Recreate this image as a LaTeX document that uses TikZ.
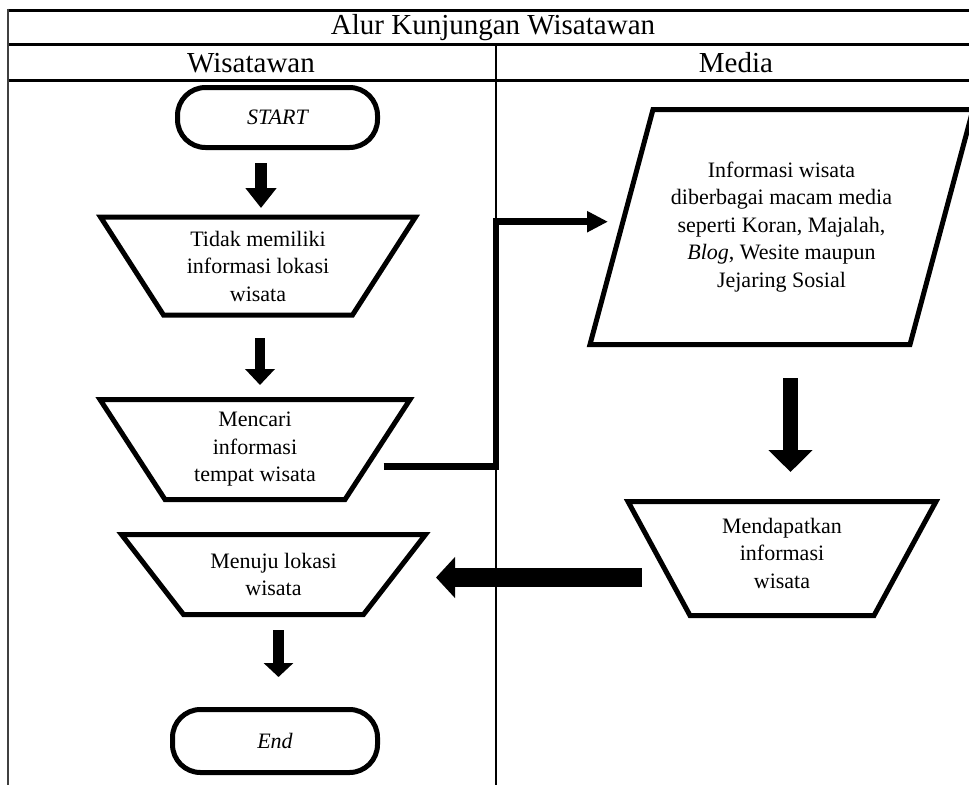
\documentclass[tikz,border=0pt]{standalone}
\usepackage{fontspec}
\setmainfont{Liberation Serif}
\usetikzlibrary{arrows.meta,calc}
\begin{document}
\begin{tikzpicture}[x=1pt,y=-1pt,
  txt/.style={align=center,font=\fontsize{22}{27.5}\selectfont,inner sep=0pt,outer sep=0pt},
  headtxt/.style={font=\fontsize{29}{32}\selectfont,inner sep=0pt,outer sep=0pt},
  frame/.style={txt,minimum width=#1},
  shapeline/.style={line width=5pt,line join=miter},
  termbox/.style={txt,draw,line width=5pt,rounded corners=28pt,font=\fontsize{22}{27.5}\selectfont\itshape},
  blockarrow/.style n args={3}{line width=#1,-{Triangle[width=#2,length=#3]}},
  elbowline/.style={line width=6.5pt,line join=miter,-{Triangle[width=20pt,length=21pt]}}
]
\useasboundingbox (0,0) rectangle (969,785);
\clip (0,0) rectangle (969,785);

% table
\draw[line width=3pt] (8,10) -- (976,10);
\draw[line width=3pt] (8,44) -- (976,44);
\draw[line width=3pt] (8,80) -- (976,80);
\draw[line width=2pt,black!75] (8,8.5) -- (8,785);
\coordinate (divtop) at (496,44);
\coordinate (divbot) at (496,785);
\draw[line width=1.5pt] (divtop) -- (divbot);
\node[headtxt] (title) at (493,28) {Alur Kunjungan Wisatawan};
\node[headtxt] (colA) at (251,63) {Wisatawan};
\node[headtxt] (colB) at (736,63) {Media};

% nodes
\node[termbox,minimum width=200pt,minimum height=60pt] (start) at (277.5,117.5) {\raisebox{-3pt}{START}};
\node[frame=315pt,minimum height=98pt] (t1) at (258,266) {Tidak memiliki\\informasi lokasi\\wisata};
\draw[shapeline] (t1.north west) -- (t1.north east) -- ([xshift=-63pt]t1.south east) -- ([xshift=63pt]t1.south west) -- cycle;
\node[frame=310pt,minimum height=100pt] (t2) at (255,449.5) {Mencari\\informasi\\tempat wisata};
\draw[shapeline] (t2.north west) -- (t2.north east) -- ([xshift=-65pt]t2.south east) -- ([xshift=65pt]t2.south west) -- cycle;
\node[frame=304pt,minimum height=80pt] (t3) at (273.5,574.5) {Menuju lokasi\\wisata};
\draw[shapeline] (t3.north west) -- (t3.north east) -- ([xshift=-62pt]t3.south east) -- ([xshift=62pt]t3.south west) -- cycle;
\node[termbox,minimum width=205pt,minimum height=63pt] (end) at (275,741) {End};

\node[frame=383pt,minimum height=235pt] (para) at (781.5,227) {Informasi wisata\\diberbagai macam media\\seperti Koran, Majalah,\\\textit{Blog}, Wesite maupun\\Jejaring Sosial};
\draw[shapeline] ([xshift=63pt]para.north west) -- (para.north east) -- ([xshift=-63pt]para.south east) -- (para.south west) -- cycle;
\node[frame=308pt,minimum height=114pt] (t4) at (782,558.5) {};
\node[txt] (t4text) at ($(t4)+(0,-5.5)$) {Mendapatkan\\informasi\\wisata};
\draw[shapeline] (t4.north west) -- (t4.north east) -- ([xshift=-62pt]t4.south east) -- ([xshift=62pt]t4.south west) -- cycle;

% connectors
\draw[blockarrow={12pt}{30pt}{20pt}] ($(start.south)+(-16.5,15.5)$) -- ($(t1.north)+(3,-9)$);
\draw[blockarrow={10pt}{29pt}{16pt}] ($(t1.south)+(2,23)$) -- ($(t2.north)+(5,-14.5)$);
\draw[blockarrow={11pt}{29pt}{14pt}] ($(t3.south)+(5,15.5)$) -- ($(end.north)+(3.5,-32.5)$);
\draw[blockarrow={15pt}{43pt}{22pt}] ($(para.south)+(9,33.5)$) -- ($(t4.north)+(8.5,-29.5)$);
\draw[blockarrow={19pt}{40pt}{19pt}] ($(t4.west)+(14,19)$) -- ($(t3.east)+(10.5,3)$);
\coordinate (e1) at ($(t2.east)+(-26.5,17)$);
\coordinate (e2) at ($(para.west)+(18,-5.3)$);
\draw[elbowline] (e1) -- (e1 -| divtop) |- (e2);
\end{tikzpicture}
\end{document}
